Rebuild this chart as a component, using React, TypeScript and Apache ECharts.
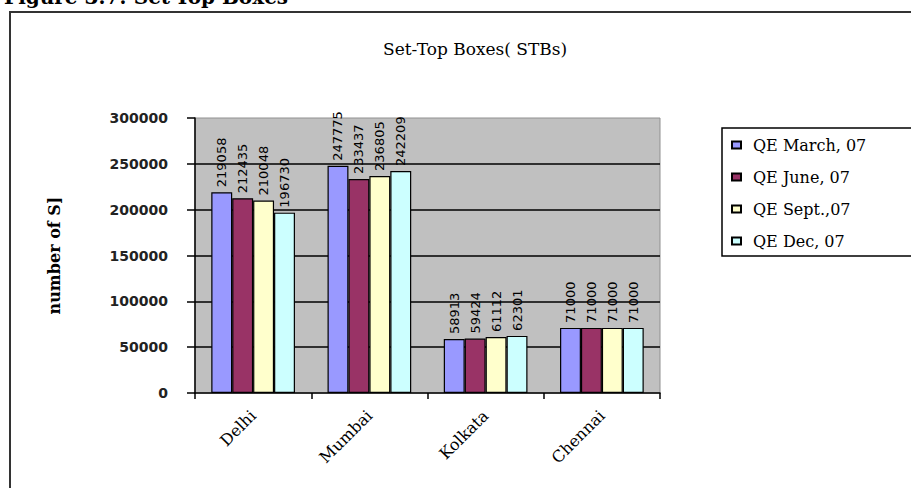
import React, { useEffect, useRef } from "react";
import * as echarts from "echarts";

const categories = ["Delhi", "Mumbai", "Kolkata", "Chennai"];
const seriesNames = ["QE March, 07", "QE June, 07", "QE Sept.,07", "QE Dec, 07"];
const qeMarch = [219058, 247775, 58913, 71000];
const qeJune = [212435, 233437, 59424, 71000];
const qeSept = [210048, 236805, 61112, 71000];
const qeDec = [196730, 242209, 62301, 71000];
const colors = ["#9999FF", "#993366", "#FFFFCC", "#CCFFFF"];
const yTicks = { min: 0, max: 300000, interval: 50000 };

const SERIF = "'DejaVu Serif', 'Liberation Serif', serif";

export default function App() {
  const ref = useRef<HTMLDivElement>(null);
  useEffect(() => {
    if (!ref.current) return;
    const chart = echarts.init(ref.current, null, { renderer: "svg" });
    const data = [qeMarch, qeJune, qeSept, qeDec];
    chart.setOption({
      animation: false,
      backgroundColor: "#ffffff",
      title: {
        text: "Set-Top Boxes( STBs)",
        left: 383,
        top: 40,
        padding: 0,
        textStyle: { fontFamily: SERIF, fontSize: 17, fontWeight: "normal", color: "#000" },
      },
      graphic: [
        {
          type: "text",
          left: 4,
          top: -13,
          style: { text: "Figure 3.7: Set-Top Boxes", font: `bold 20px ${SERIF}`, fill: "#000" },
        },
        {
          type: "rect",
          shape: { x: 10, y: 12, width: 1000, height: 1000 },
          style: { fill: "none", stroke: "#333", lineWidth: 2 },
          z: -10,
        },
        {
          type: "rect",
          shape: { x: 722, y: 128, width: 300, height: 128 },
          style: { fill: "#fff", stroke: "#000", lineWidth: 1.5 },
          z: 0,
        },
      ],
      legend: {
        orient: "vertical",
        left: 731,
        top: 137,
        padding: 0,
        itemGap: 16,
        itemWidth: 9,
        itemHeight: 7,
        icon: "rect",
        z: 5,
        data: seriesNames,
        textStyle: {
          fontFamily: SERIF,
          fontSize: 16,
          lineHeight: 16,
          color: "#000",
          padding: [0, 0, 0, 7],
        },
      },
      grid: {
        left: 195,
        right: 251,
        top: 118,
        bottom: 95,
        show: true,
        backgroundColor: "#C0C0C0",
        borderColor: "#909090",
        borderWidth: 1,
      },
      xAxis: {
        type: "category",
        data: categories,
        axisLine: { lineStyle: { color: "#000", width: 1.5 } },
        axisTick: { show: true, length: 6, lineStyle: { color: "#000", width: 1.5 } },
        axisLabel: {
          rotate: 45,
          margin: 20,
          fontFamily: SERIF,
          fontSize: 16,
          color: "#000",
        },
      },
      yAxis: {
        type: "value",
        min: yTicks.min,
        max: yTicks.max,
        interval: yTicks.interval,
        name: "number of S]",
        nameLocation: "middle",
        nameRotate: 90,
        nameGap: 133,
        nameTextStyle: { fontFamily: SERIF, fontSize: 16, fontWeight: "bold", color: "#000" },
        axisLine: { show: true, lineStyle: { color: "#000", width: 1.5 } },
        axisTick: { show: true, length: 8, lineStyle: { color: "#000", width: 1.5 } },
        axisLabel: {
          margin: 27,
          fontFamily: "'DejaVu Sans', sans-serif",
          fontSize: 14,
          fontWeight: "bold",
          color: "#222",
          formatter: (v: number) => String(v),
        },
        splitLine: {
          show: true,
          showMinLine: false,
          showMaxLine: false,
          lineStyle: { color: "#000", width: 1.5 },
        },
      },
      series: data.map((vals, i) => ({
        name: seriesNames[i],
        type: "bar",
        data: vals,
        barGap: "0%",
        barCategoryGap: "28%",
        itemStyle: { color: colors[i], borderColor: "#000", borderWidth: 1.2 },
        label: {
          show: true,
          position: "top",
          rotate: 90,
          align: "left",
          verticalAlign: "middle",
          distance: 5,
          fontFamily: "'DejaVu Sans', sans-serif",
          fontSize: 13,
          color: "#000",
        },
      })),
    });
    return () => chart.dispose();
  }, []);
  return (
    <div
      ref={ref}
      style={{ position: "fixed", left: 0, top: 0, width: 911, height: 488 }}
    />
  );
}
